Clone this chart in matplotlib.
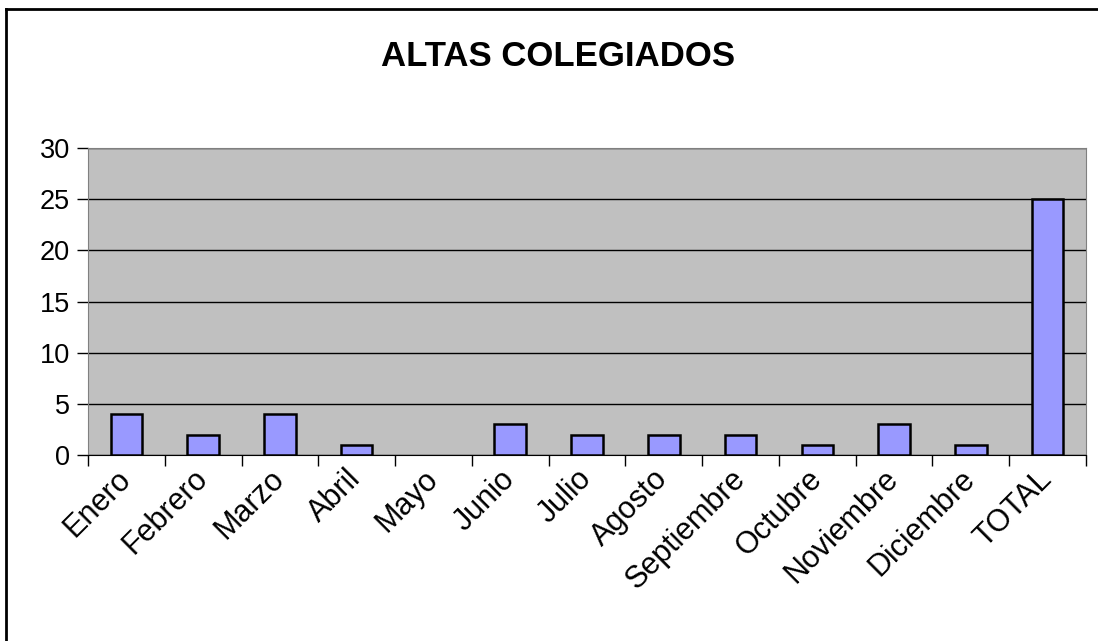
import numpy as np
import matplotlib.pyplot as plt
from matplotlib.lines import Line2D

plt.rcParams['font.family'] = ['Liberation Sans', 'DejaVu Sans']

meses = ['Enero', 'Febrero', 'Marzo', 'Abril', 'Mayo', 'Junio', 'Julio',
         'Agosto', 'Septiembre', 'Octubre', 'Noviembre', 'Diciembre', 'TOTAL']
altas = [4, 2, 4, 1, 0, 3, 2, 2, 2, 1, 3, 1, 25]
yticks = [0, 5, 10, 15, 20, 25, 30]

fig = plt.figure(figsize=(10.98, 6.41), dpi=100)
ax = fig.add_axes([88/1098, 186/641, 998/1098, 307/641])

x = np.arange(len(meses))
bordes = ['black' if v > 0 else 'none' for v in altas]  # Mayo sin barra
ax.bar(x, altas, width=0.41, color='#9999FF', edgecolor=bordes, linewidth=1.8, zorder=3)

ax.set_facecolor('#C0C0C0')
ax.set_xlim(-0.5, len(meses) - 0.5)
ax.set_ylim(0, 30)
ax.set_yticks(yticks)
ax.yaxis.grid(True, color='black', linewidth=1, zorder=1)
ax.tick_params(axis='y', direction='out', length=8, width=1, labelsize=19.5, pad=5)

# etiquetas en el centro, marcas entre categorias
ax.set_xticks(x)
ax.set_xticklabels(meses, rotation=45, ha='right', va='center', rotation_mode='anchor', fontsize=22)
ax.tick_params(axis='x', which='major', length=0, pad=14)
ax.set_xticks(np.arange(-0.5, len(meses)), minor=True)
ax.tick_params(axis='x', which='minor', direction='out', length=8, width=1)

for s in ['top', 'right', 'left']:
    ax.spines[s].set_color('#808080')
ax.spines['bottom'].set_color('black')

fig.text(0.508, 1 - 56/641, 'ALTAS COLEGIADOS', ha='center', va='center',
         fontsize=25, fontweight='bold')

# marco exterior
fig.add_artist(Line2D([6/1098, 1], [1 - 8.5/641] * 2, color='black', lw=2, transform=fig.transFigure))
fig.add_artist(Line2D([6/1098] * 2, [0, 1 - 8.5/641], color='black', lw=2, transform=fig.transFigure))

fig.savefig('out.png', dpi=100)
